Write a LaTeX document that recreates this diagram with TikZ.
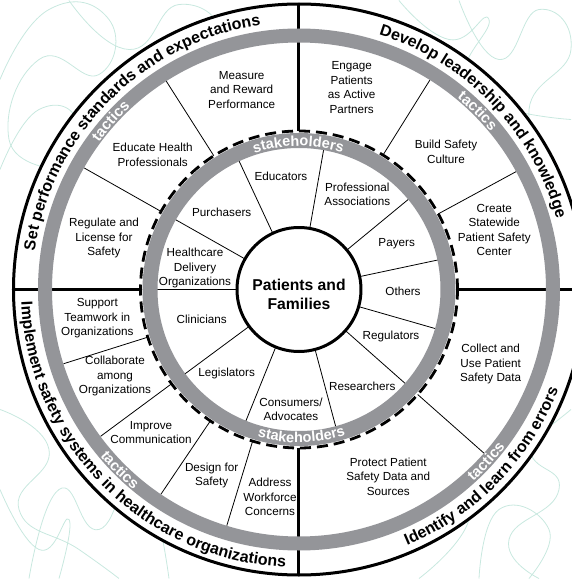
\documentclass[tikz,border=0pt]{standalone}
\usepackage{fontspec}
\setmainfont{Liberation Sans}
\usetikzlibrary{decorations.text}
\definecolor{bandgray}{RGB}{148,149,153}
\definecolor{squiggle}{RGB}{200,232,223}
\newcommand\ttlfont{\fontsize{16}{16}\selectfont\bfseries}
\newcommand\tcsfont{\fontsize{15}{15}\selectfont\bfseries}
\newcommand\skhfont{\fontsize{14.5}{14.5}\selectfont\bfseries}
\begin{document}
\begin{tikzpicture}[x=1pt,y=1pt,
  lbl/.style={align=center, font=\fontsize{11.7}{14.5}\selectfont, inner sep=0pt},
  quadline/.style={line width=3pt},
  divline/.style={line width=0.8pt},
  squig/.style={squiggle, line width=0.8pt}]
\useasboundingbox (-299,-289.5) rectangle (272,289.5);
% background scribbles
\draw[squig] plot[smooth, tension=0.9] coordinates {(-299,210) (-250,280) (-190,270) (-200,215) (-260,230) (-290,150) (-240,120)};
\draw[squig] plot[smooth, tension=0.9] coordinates {(-230,289) (-170,240) (-120,285) (-80,250) (-140,200)};
\draw[squig] plot[smooth, tension=0.9] coordinates {(-299,120) (-260,180) (-220,160) (-250,90)};
\draw[squig] plot[smooth, tension=0.9] coordinates {(160,289) (200,230) (240,280) (272,240) (230,180) (260,120)};
\draw[squig] plot[smooth, tension=0.9] coordinates {(100,289) (150,250) (190,270) (170,200) (272,170)};
\draw[squig] plot[smooth, tension=0.9] coordinates {(-299,-120) (-250,-160) (-280,-220) (-220,-260) (-180,-289)};
\draw[squig] plot[smooth, tension=0.9] coordinates {(-270,-289) (-240,-200) (-200,-240) (-160,-180) (-130,-289)};
\draw[squig] plot[smooth, tension=0.9] coordinates {(-299,-200) (-260,-260) (-230,-230) (-240,-289)};
\draw[squig] plot[smooth, tension=0.9] coordinates {(272,-60) (230,-150) (260,-200) (210,-250) (240,-289)};
\draw[squig] plot[smooth, tension=0.9] coordinates {(180,-289) (200,-220) (250,-240) (230,-289)};
\draw[squig] plot[smooth, tension=0.9] coordinates {(120,-289) (170,-230) (150,-180) (200,-170) (272,-120)};
% white disc
\fill[white] (0,0) circle (286);
% quadrant lines
\foreach \a in {0,90,180,270} \draw[quadline] (\a:158.5) -- (\a:286);
% tactic dividers
\foreach \a in {58,28.5,318.5,253,236,216.5,197.5,150.5,122.5} \draw[divline] (\a:158.5) -- (\a:247);
% stakeholder dividers
\foreach \a in {80,39.5,12,344,318.5,285,248,216.5,180,150.5,115} \draw[divline] (\a:62) -- (\a:142);
% rings
\draw[bandgray, line width=14pt] (0,0) circle (254);
\draw[bandgray, line width=15pt] (0,0) circle (149);
\draw[line width=2.8pt, dash pattern=on 11pt off 6pt] (0,0) circle (158.5);
\draw[line width=3pt] (0,0) circle (285.5);
\draw[line width=3pt, fill=white] (0,0) circle (62);
% centre
\node[align=center, font=\fontsize{15.7}{19.3}\selectfont\bfseries, inner sep=0pt] (pf) at (0,-5) {Patients and\\Families};
% tactics
\node[lbl] (t1) at (-57.3,199.5) {Measure\\and Reward\\Performance};
\node[lbl] (t2) at (-146.3,134.5) {Educate Health\\Professionals};
\node[lbl] (t3) at (-195,51.2) {Regulate and\\License for\\Safety};
\node[lbl] (t4) at (52.7,202.2) {Engage\\Patients\\as Active\\Partners};
\node[lbl] (t5) at (147,137.8) {Build Safety\\Culture};
\node[lbl] (t6) at (195.3,59.5) {Create\\Statewide\\Patient Safety\\Center};
\node[lbl] (t7) at (191.7,-74.5) {Collect and\\Use Patient\\Safety Data};
\node[lbl] (t8) at (89.3,-187.2) {Protect Patient\\Safety Data and\\Sources};
\node[lbl] (t9) at (-201.7,-28.8) {Support\\Teamwork in\\Organizations};
\node[lbl] (t10) at (-184,-86.5) {Collaborate\\among\\Organizations};
\node[lbl] (t11) at (-148,-143.2) {Improve\\Communication};
\node[lbl] (t12) at (-87.3,-185.8) {Design for\\Safety};
\node[lbl] (t13) at (-29,-207.5) {Address\\Workforce\\Concerns};
% stakeholders
\node[lbl] (s1) at (-18,113.5) {Educators};
\node[lbl] (s2) at (58.3,95.2) {Professional\\Associations};
\node[lbl] (s3) at (97.7,46.2) {Payers};
\node[lbl] (s4) at (104,-1.5) {Others};
\node[lbl] (s5) at (92,-47.2) {Regulators};
\node[lbl] (s6) at (63.3,-97.2) {Researchers};
\node[lbl] (s7) at (-8,-120) {Consumers/\\Advocates};
\node[lbl] (s8) at (-72.3,-83.8) {Legislators};
\node[lbl] (s9) at (-97.3,-29.5) {Clinicians};
\node[lbl] (s10) at (-104,21.5) {Healthcare\\Delivery\\Organizations};
\node[lbl] (s11) at (-77.3,77.2) {Purchasers};
% curved titles
\path[decorate, decoration={text along path, text align=center, text={|\ttlfont|Set performance standards and expectations}}] (180:267) arc[start angle=180, end angle=90, radius=267];
\path[decorate, decoration={text along path, text align=center, text={|\ttlfont|Develop leadership and knowledge}}] (88:267) arc[start angle=88, end angle=0, radius=267];
\path[decorate, decoration={text along path, text align=center, text={|\ttlfont|Identify and learn from errors}}] (270:278) arc[start angle=270, end angle=361.8, radius=278];
\path[decorate, decoration={text along path, text align=center, text={|\ttlfont|Implement safety systems in healthcare organizations}}] (180:278) arc[start angle=180, end angle=269.7, radius=278];
% tactics band labels
\path[decorate, decoration={text along path, text align=center, text color=white, text={|\tcsfont|tactics}}] (168.2:248.5) arc[start angle=168.2, end angle=108.2, radius=248.5];
\path[decorate, decoration={text along path, text align=center, text color=white, text={|\tcsfont|tactics}}] (75:248.5) arc[start angle=75, end angle=15, radius=248.5];
\path[decorate, decoration={text along path, text align=center, text color=white, text={|\tcsfont|tactics}}] (195.2:259.5) arc[start angle=195.2, end angle=255.2, radius=259.5];
\path[decorate, decoration={text along path, text align=center, text color=white, text={|\tcsfont|tactics}}] (287.4:259.5) arc[start angle=287.4, end angle=347.4, radius=259.5];
% stakeholders band labels
\path[decorate, decoration={text along path, text align=center, text color=white, text={|\skhfont|stakeholders}}] (130.3:143.5) arc[start angle=130.3, end angle=50.3, radius=143.5];
\path[decorate, decoration={text along path, text align=center, text color=white, text={|\skhfont|stakeholders}}] (231:153) arc[start angle=231, end angle=311, radius=153];
\end{tikzpicture}
\end{document}
